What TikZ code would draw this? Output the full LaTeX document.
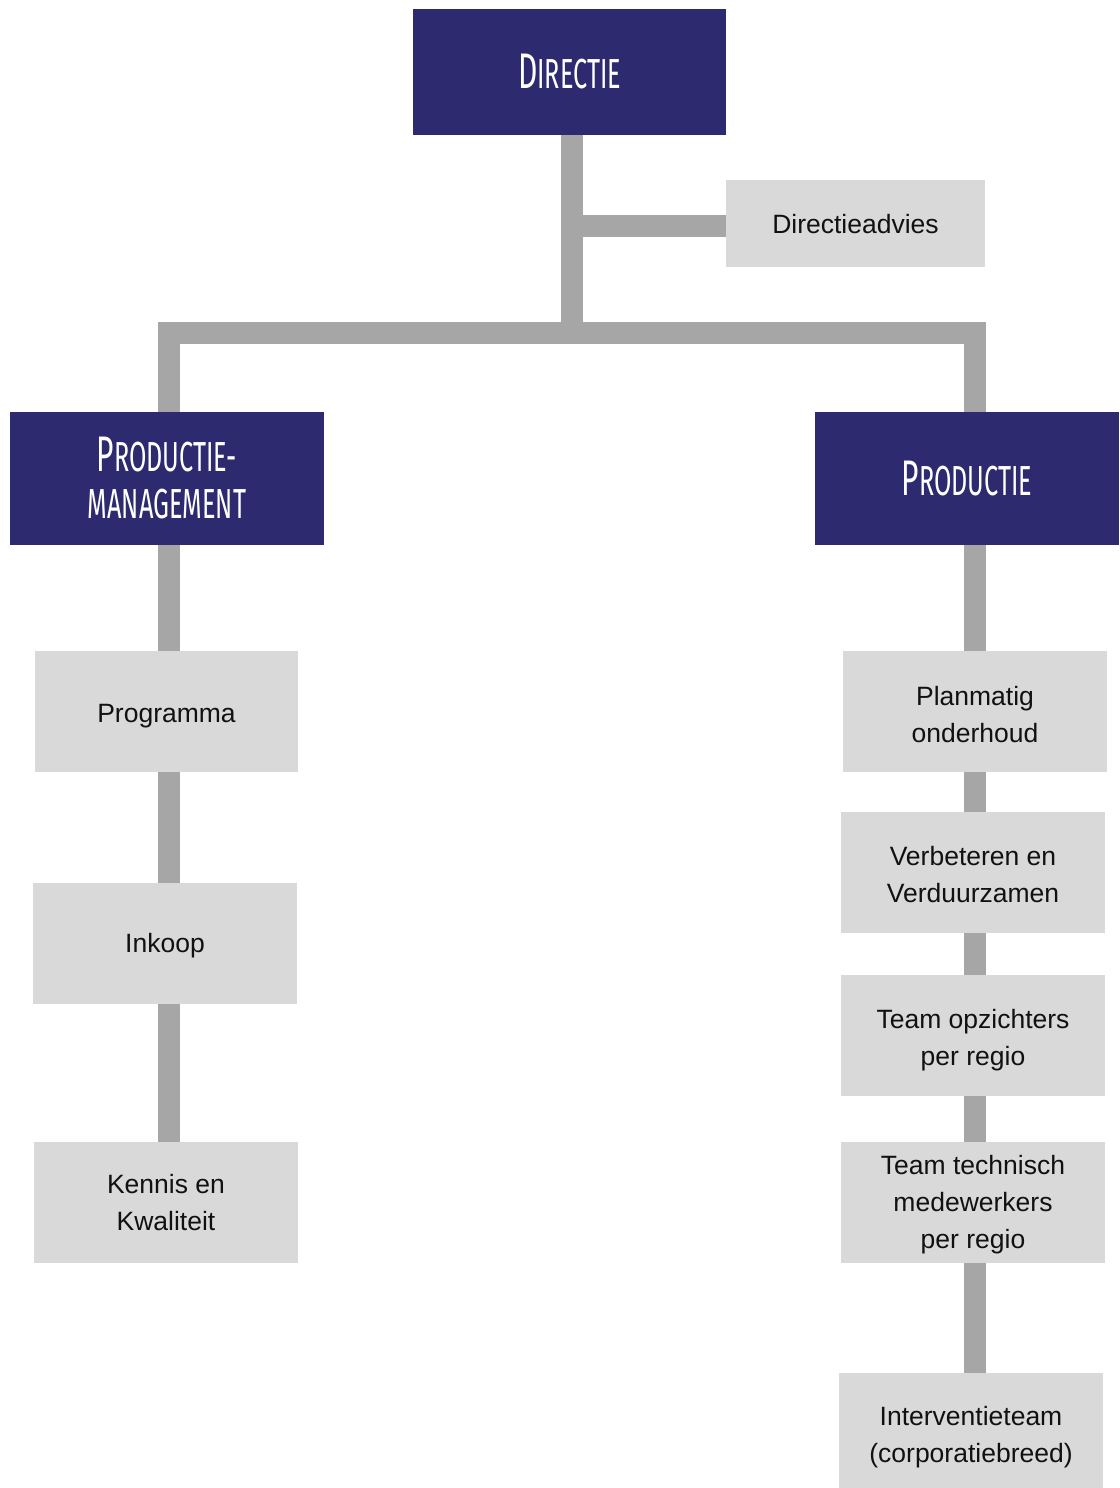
\documentclass[tikz,border=0pt]{standalone}
\usepackage{fontspec}
\setmainfont{Liberation Sans}
\newfontfamily\hfont[FakeStretch=0.6]{Fira Sans}
\usetikzlibrary{backgrounds}
\definecolor{navy}{HTML}{2D2A6F}
\definecolor{boxgray}{HTML}{D9D9D9}
\definecolor{linkgray}{HTML}{A6A6A6}
\definecolor{txt}{HTML}{111111}
\newcommand\bigc[1]{{\fontsize{50}{50}\selectfont #1}}
\begin{document}
\begin{tikzpicture}[x=1pt,y=-1pt,
  head/.style={fill=navy, text=white, inner sep=0pt, align=center,
    font=\hfont\fontsize{42}{47}\selectfont},
  unit/.style={fill=boxgray, inner sep=0pt,
    minimum width=264pt, minimum height=121pt},
  lab/.style={text=txt, inner sep=0pt, align=center,
    font=\fontsize{26.5}{37}\selectfont},
  link/.style={draw=linkgray, line width=22pt, line join=miter}]
\useasboundingbox (0,0) rectangle (1119,1488);
% headers
\node[head, minimum width=313pt, minimum height=126pt] (dir) at (569.5,72) {\bigc{D}IRECTIE};
\node[head, minimum width=314pt, minimum height=133pt] (pm) at (167,478.5) {\bigc{P}RODUCTIE-\\MANAGEMENT};
\node[head, minimum width=304pt, minimum height=133pt] (prod) at (967,478.5) {\bigc{P}RODUCTIE};
% advice
\node[unit, minimum width=259pt, minimum height=87pt,
  label={[lab, yshift=-1pt]center:Directieadvies}] (adv) at (855.5,223.5) {};
% left column
\node[unit, minimum width=263pt,
  label={[lab, yshift=-5pt]center:Programma}] (prog) at (166.5,711.5) {};
\node[unit, label={[lab, yshift=-2pt]center:Inkoop}] (ink) at (165,943.5) {};
\node[unit, label={[lab]center:Kennis en\\Kwaliteit}] (ken) at (166,1202.5) {};
% right column
\node[unit, label={[lab, yshift=-3pt]center:Planmatig\\onderhoud}] (plan) at (975,711.5) {};
\node[unit, label={[lab, yshift=-2pt]center:Verbeteren en\\Verduurzamen}] (verb) at (973,872.5) {};
\node[unit, label={[lab, yshift=-5pt]center:Team opzichters\\per regio}] (opz) at (973,1035.5) {};
\node[unit, label={[lab, yshift=-2pt]center:Team technisch\\medewerkers\\per regio}] (tech) at (973,1202.5) {};
\node[unit, minimum height=115pt,
  label={[lab, yshift=-7pt]center:Interventieteam\\(corporatiebreed)}] (int) at (971,1430.5) {};
% junctions
\coordinate (trunk) at (572,333);
\coordinate (lj) at (169,333);
\coordinate (rj) at (975,333);
\begin{scope}[on background layer]
\draw[link] (trunk |- dir.south) -- (trunk);
\draw[link] (trunk |- 0,226) -- (adv.west |- 0,226);
\draw[link] (lj |- pm.north) -- (lj) -- (rj) -- (rj |- prod.north);
\draw[link] (lj |- pm.south) -- (lj |- prog.north);
\draw[link] (lj |- prog.south) -- (lj |- ink.north);
\draw[link] (lj |- ink.south) -- (lj |- ken.north);
\draw[link] (rj |- prod.south) -- (rj |- plan.north);
\draw[link] (rj |- plan.south) -- (rj |- verb.north);
\draw[link] (rj |- verb.south) -- (rj |- opz.north);
\draw[link] (rj |- opz.south) -- (rj |- tech.north);
\draw[link] (rj |- tech.south) -- (rj |- int.north);
\end{scope}
\end{tikzpicture}
\end{document}
